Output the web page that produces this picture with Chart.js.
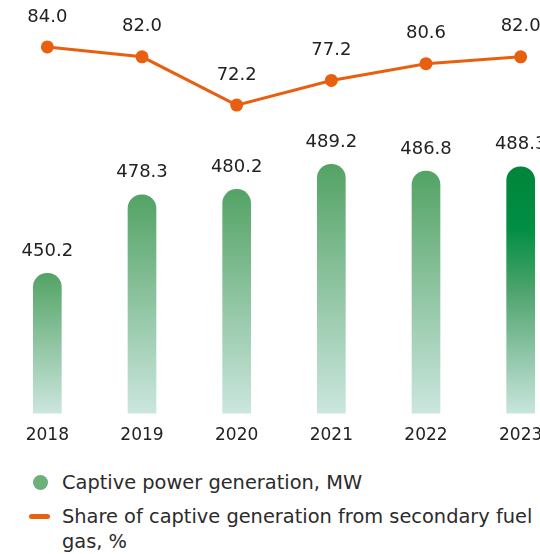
<!DOCTYPE html>
<html>
<head>
<meta charset="utf-8">
<script src="https://cdn.jsdelivr.net/npm/chart.js@4"></script>
<style>
  html, body { margin: 0; padding: 0; background: #fff; width: 540px; height: 554px; overflow: hidden; position: relative; }
  #wrap { position: absolute; left: 0; top: 0; width: 568px; height: 458px; }
  .legend { position: absolute; left: 0; top: 470px; font-family: "DejaVu Sans", sans-serif; font-size: 19.4px; color: #2b2b2b; }
  .item { position: relative; padding-left: 62px; line-height: 25px; }
  .dot { position: absolute; left: 33px; top: 5px; width: 15px; height: 15px; border-radius: 50%; background: #6cb07c; }
  .dash { position: absolute; left: 29px; top: 10px; width: 21px; height: 5px; border-radius: 3px; background: #e8600f; }
  .item2 { margin-top: 9px; width: 490px; }
</style>
</head>
<body>
<div id="wrap"><canvas id="grafico"></canvas></div>
<div class="legend">
  <div class="item"><span class="dot"></span>Captive power generation, MW</div>
  <div class="item item2"><span class="dash"></span>Share of captive generation from secondary fuel gas, %</div>
</div>
<script>
const anos = ['2018', '2019', '2020', '2021', '2022', '2023']
const geracao = [450.2, 478.3, 480.2, 489.2, 486.8, 488.3]
const participacao = [84.0, 82.0, 72.2, 77.2, 80.6, 82.0]

const grafico = document.getElementById('grafico')

function corBarra(ctx) {
  const chart = ctx.chart
  const area = chart.chartArea
  if (!area || ctx.type !== 'data') return '#55a467'
  const y = chart.scales.y
  const topo = y.getPixelForValue(ctx.raw)
  const base = y.getPixelForValue(y.min)
  const g = chart.ctx.createLinearGradient(0, topo, 0, base)
  if (ctx.dataIndex === anos.length - 1) {
    g.addColorStop(0, '#00853a')
    g.addColorStop(0.25, '#008e45')
    g.addColorStop(0.5, '#4ea36c')
    g.addColorStop(1, '#c9e5dd')
  } else {
    g.addColorStop(0, '#53a365')
    g.addColorStop(1, '#cbe6de')
  }
  return g
}

// rotulos em cima das barras e dos pontos
const rotulos = {
  id: 'rotulos',
  afterDatasetsDraw(chart) {
    const c = chart.ctx
    c.save()
    c.font = '18px "DejaVu Sans"'
    c.fillStyle = '#222'
    c.textAlign = 'center'
    c.textBaseline = 'middle'
    chart.data.datasets.forEach((ds, i) => {
      const meta = chart.getDatasetMeta(i)
      meta.data.forEach((el, j) => {
        const off = ds.type === 'line' ? 30 : 22
        c.fillText(ds.data[j].toFixed(1), el.x, el.y - off)
      })
    })
    c.restore()
  }
}

new Chart(grafico, {
  data: {
    labels: anos,
    datasets: [{
      type: 'line',
      label: 'Share of captive generation from secondary fuel gas, %',
      data: participacao,
      yAxisID: 'y1',
      borderColor: '#e8600f',
      backgroundColor: '#e8600f',
      pointBackgroundColor: '#e8600f',
      pointBorderWidth: 0,
      pointRadius: 6.5,
      borderWidth: 3,
      tension: 0
    }, {
      type: 'bar',
      label: 'Captive power generation, MW',
      data: geracao,
      yAxisID: 'y',
      backgroundColor: corBarra,
      barThickness: 28,
      borderRadius: 14,
      borderSkipped: false
    }]
  },
  options: {
    responsive: true,
    maintainAspectRatio: false,
    animation: false,
    layout: { autoPadding: false, padding: { top: 10, left: 0, right: 0, bottom: 0 } },
    plugins: {
      legend: { display: false },
      tooltip: { enabled: false }
    },
    scales: {
      x: {
        grid: { display: false, drawTicks: false },
        border: { display: false },
        ticks: { color: '#222', font: { family: 'DejaVu Sans', size: 17 }, padding: 12 }
      },
      y: {
        display: false,
        min: 400,
        max: 544.4
      },
      y1: {
        display: false,
        min: 9.6,
        max: 91.5
      }
    }
  },
  plugins: [rotulos]
})
</script>
</body>
</html>
